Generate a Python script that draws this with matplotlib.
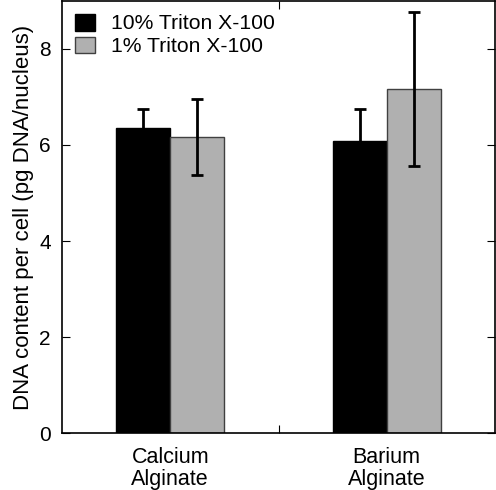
import matplotlib
matplotlib.use("Agg")
import matplotlib.pyplot as plt
import numpy as np

plt.rcParams['font.family'] = ['Liberation Sans', 'DejaVu Sans']

# data
categories = ["Calcium\nAlginate", "Barium\nAlginate"]
series_labels = ["10% Triton X-100", "1% Triton X-100"]
triton10_mean = [6.36, 6.09]
triton10_err = [0.40, 0.65]
triton1_mean = [6.17, 7.17]
triton1_err = [0.79, 1.60]

fig = plt.figure(figsize=(4.96, 4.90), dpi=100)
ax = fig.add_axes([62 / 496, 1 - 433 / 490, 433 / 496, 432 / 490])

x = np.arange(1, len(categories) + 1)
w = 0.25
ax.bar(x - w / 2, triton10_mean, w, color="black", edgecolor="black", linewidth=1,
       label=series_labels[0])
ax.bar(x + w / 2, triton1_mean, w, color="#b0b0b0", edgecolor="#404040", linewidth=1,
       label=series_labels[1])
ax.errorbar(x - w / 2, triton10_mean, yerr=triton10_err, fmt="none", ecolor="black",
            elinewidth=2, capsize=4, capthick=2)
ax.errorbar(x + w / 2, triton1_mean, yerr=triton1_err, fmt="none", ecolor="black",
            elinewidth=2, capsize=4, capthick=2)

ax.set_xlim(0.5, 2.5)
ax.set_ylim(0, 9)
ax.set_yticks([0, 2, 4, 6, 8])
ax.set_xticks([1.5])
ax.set_xticklabels([""])
ax.set_xticks(x, minor=True)
ax.set_xticklabels(categories, minor=True, linespacing=1.05)
ax.tick_params(axis="x", which="minor", length=0, pad=10, labelsize=15.5)
ax.tick_params(axis="x", which="major", direction="in", top=True, length=6)
ax.tick_params(axis="y", direction="in", right=True, length=6, labelsize=15, pad=8)
for s in ax.spines.values():
    s.set_linewidth(1.2)

ax.set_ylabel("DNA content per cell (pg DNA/nucleus)", fontsize=16, labelpad=4)

ax.legend(loc="upper left", fontsize=15.2, frameon=False, handlelength=0.95,
          handleheight=0.85, handletextpad=0.75, labelspacing=0.15,
          borderaxespad=0.2, borderpad=0.4)

fig.savefig("out.png", dpi=100)
